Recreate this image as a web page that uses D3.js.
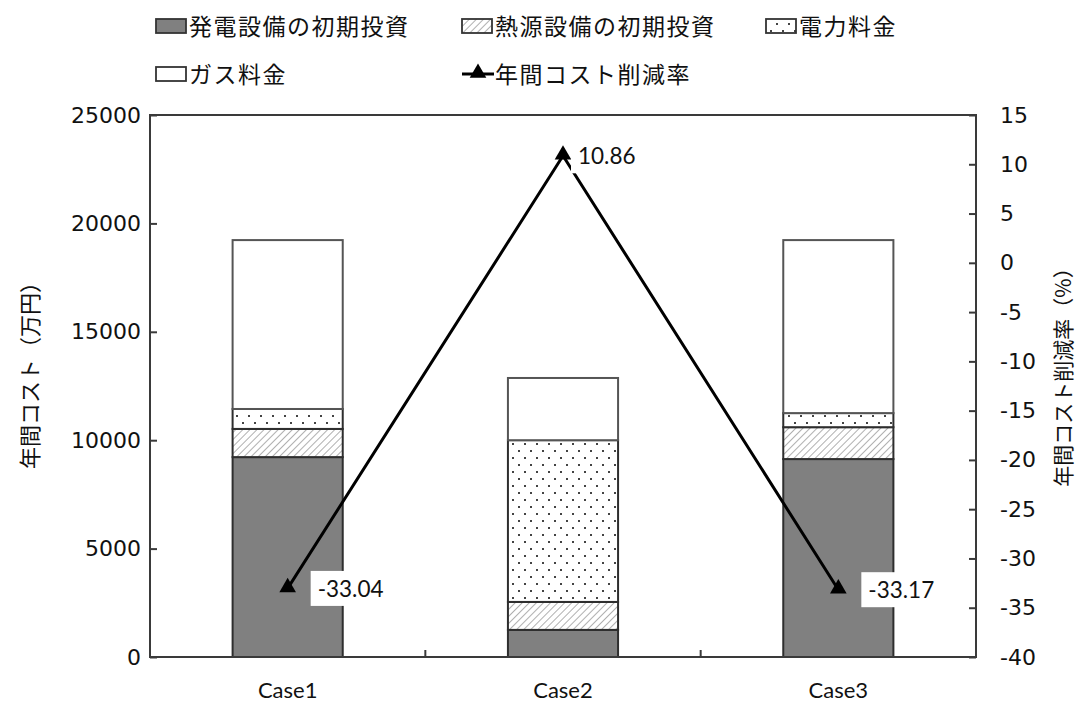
<!DOCTYPE html>
<html>
<head>
<meta charset="utf-8">
<script src="https://cdn.jsdelivr.net/npm/d3@7"></script>
<style>
  html, body { margin: 0; padding: 0; background: #fff; }
  svg { display: block; }
</style>
</head>
<body>
<svg id="chart" width="1080" height="704"></svg>
<script>
// ---- data ----
const categories = ["Case1", "Case2", "Case3"];
const seriesNames = ["発電設備の初期投資", "熱源設備の初期投資", "電力料金", "ガス料金"];
const genInvest = [9220, 1250, 9130];     // 発電設備の初期投資
const heatInvest = [1300, 1290, 1470];    // 熱源設備の初期投資
const powerCost = [920, 7460, 650];       // 電力料金
const gasCost = [7790, 2870, 7980];       // ガス料金
const reductionRate = [-33.04, 10.86, -33.17]; // 年間コスト削減率 (%)
const lineName = "年間コスト削減率";
const leftTicks = [0, 5000, 10000, 15000, 20000, 25000];
const rightTicks = [15, 10, 5, 0, -5, -10, -15, -20, -25, -30, -35, -40];
const leftTitle = "年間コスト（万円）";
const rightTitle = "年間コスト削減率（%）";

// ---- layout ----
const svg = d3.select("#chart");
const plot = { left: 150, right: 976, top: 115, bottom: 657 };
const jp = "'Noto Sans CJK JP', sans-serif";
const num = "'DejaVu Sans', sans-serif";
const lab = "Lato, 'Liberation Sans', sans-serif";
const axisColor = "#3a3a3a";
const plain = d => String(d); // hyphen-minus for negatives

const x = d3.scaleBand().domain(categories).range([plot.left, plot.right]).paddingInner(0.6).paddingOuter(0.3);
const xOuter = d3.scaleBand().domain(categories).range([plot.left, plot.right]);
const yL = d3.scaleLinear().domain([0, 25000]).range([plot.bottom, plot.top]);
const yR = d3.scaleLinear().domain([-40, 15]).range([plot.bottom, plot.top]);

// ---- patterns ----
const defs = svg.append("defs");
const hatch = defs.append("pattern").attr("id", "hatch").attr("patternUnits", "userSpaceOnUse")
  .attr("width", 5).attr("height", 5).attr("patternTransform", "rotate(45)");
hatch.append("rect").attr("width", 5).attr("height", 5).attr("fill", "#fff");
hatch.append("line").attr("x1", 0).attr("y1", 0).attr("x2", 0).attr("y2", 5)
  .attr("stroke", "#6e6e6e").attr("stroke-width", 1.1);

const dots = defs.append("pattern").attr("id", "dots").attr("patternUnits", "userSpaceOnUse")
  .attr("width", 12).attr("height", 14);
dots.append("rect").attr("width", 12).attr("height", 14).attr("fill", "#fff");
dots.append("rect").attr("x", 2).attr("y", 2).attr("width", 2).attr("height", 2).attr("fill", "#444");
dots.append("rect").attr("x", 8).attr("y", 9).attr("width", 2).attr("height", 2).attr("fill", "#444");

const fills = ["#808080", "url(#hatch)", "url(#dots)", "#ffffff"];

// ---- stacked bars ----
const rows = categories.map((c, i) => ({
  cat: c, gen: genInvest[i], heat: heatInvest[i], power: powerCost[i], gas: gasCost[i]
}));
const keys = ["gen", "heat", "power", "gas"];
const stacked = d3.stack().keys(keys)(rows);

const barG = svg.append("g");
stacked.forEach((layer, li) => {
  barG.selectAll(null).data(layer).enter().append("rect")
    .attr("x", d => x(d.data.cat))
    .attr("width", x.bandwidth())
    .attr("y", d => yL(d[1]))
    .attr("height", d => yL(d[0]) - yL(d[1]))
    .attr("fill", fills[li])
    .attr("stroke", li === 3 ? "#555" : "#2e2e2e")
    .attr("stroke-width", 2);
});

// ---- frame and axes ----
svg.append("rect").attr("x", plot.left).attr("y", plot.top)
  .attr("width", plot.right - plot.left).attr("height", plot.bottom - plot.top)
  .attr("fill", "none").attr("stroke", axisColor).attr("stroke-width", 2);

const leftAxis = svg.append("g").attr("transform", `translate(${plot.left},0)`)
  .call(d3.axisLeft(yL).tickValues(leftTicks).tickSize(-7).tickPadding(9).tickFormat(plain));
const rightAxis = svg.append("g").attr("transform", `translate(${plot.right},0)`)
  .call(d3.axisRight(yR).tickValues(rightTicks).tickSize(-7).tickPadding(24).tickFormat(plain));
[leftAxis, rightAxis].forEach(a => {
  a.select(".domain").remove();
  a.selectAll(".tick line").attr("stroke", axisColor).attr("stroke-width", 2);
  a.selectAll(".tick text").attr("font-family", num).attr("font-size", 22).attr("fill", "#111");
});

// category boundary ticks on the bottom axis
const bounds = categories.slice(1).map(c => xOuter(c));
svg.append("g").selectAll("line").data(bounds).enter().append("line")
  .attr("x1", d => d).attr("x2", d => d)
  .attr("y1", plot.bottom).attr("y2", plot.bottom - 7)
  .attr("stroke", axisColor).attr("stroke-width", 2);

svg.append("g").selectAll("text").data(categories).enter().append("text")
  .attr("x", d => x(d) + x.bandwidth() / 2)
  .attr("y", 698)
  .attr("text-anchor", "middle")
  .attr("font-family", lab).attr("font-size", 22).attr("fill", "#111")
  .text(d => d);

// axis titles
svg.append("text")
  .attr("transform", `translate(28,370) rotate(-90)`)
  .attr("text-anchor", "middle").attr("dominant-baseline", "central")
  .attr("font-family", jp).attr("font-size", 22).attr("fill", "#111")
  .text(leftTitle);
svg.append("text")
  .attr("transform", `translate(1062,372) rotate(-90)`)
  .attr("text-anchor", "middle").attr("dominant-baseline", "central")
  .attr("font-family", jp).attr("font-size", 21).attr("fill", "#111")
  .text(rightTitle);

// ---- reduction-rate line ----
const cx = c => x(c) + x.bandwidth() / 2;
const pts = categories.map((c, i) => ({ c, v: reductionRate[i] }));
svg.append("path")
  .datum(pts)
  .attr("fill", "none").attr("stroke", "#000").attr("stroke-width", 3)
  .attr("d", d3.line().x(d => cx(d.c)).y(d => yR(d.v)));

const tri = d3.symbol().type(d3.symbolTriangle).size(120);
svg.append("g").selectAll("path").data(pts).enter().append("path")
  .attr("transform", d => `translate(${cx(d.c)},${yR(d.v) - 1})`)
  .attr("d", tri).attr("fill", "#000");

// value labels with white backing
const labelG = svg.append("g");
pts.forEach(d => {
  const px = cx(d.c), py = yR(d.v);
  const dx = d.v < 0 ? 30 : 15;
  const g = labelG.append("g");
  const t = g.append("text")
    .attr("x", px + dx).attr("y", py).attr("dominant-baseline", "central")
    .attr("font-family", lab).attr("font-size", 22.5).attr("fill", "#111")
    .text(d3.format(".2f")(d.v).replace("\u2212", "-"));
  const bb = t.node().getBBox();
  g.insert("rect", "text")
    .attr("x", bb.x - 7).attr("y", bb.y - 4)
    .attr("width", bb.width + 12).attr("height", bb.height + 8)
    .attr("fill", "#fff");
});

// ---- legend ----
const legend = svg.append("g");
const legendItems = [
  { name: seriesNames[0], fill: fills[0], x: 156, y: 25 },
  { name: seriesNames[1], fill: fills[1], x: 462, y: 25 },
  { name: seriesNames[2], fill: fills[2], x: 766, y: 25 },
  { name: seriesNames[3], fill: fills[3], x: 156, y: 73 }
];
legendItems.forEach(it => {
  legend.append("rect").attr("x", it.x).attr("y", it.y - 6).attr("width", 30).attr("height", 14)
    .attr("fill", it.fill).attr("stroke", "#333").attr("stroke-width", 1.8);
  legend.append("text").attr("x", it.x + 33).attr("y", it.y).attr("dominant-baseline", "central")
    .attr("font-family", jp).attr("font-size", 23).attr("letter-spacing", 1.5).attr("fill", "#111").text(it.name);
});
legend.append("line").attr("x1", 462).attr("x2", 494).attr("y1", 74).attr("y2", 74)
  .attr("stroke", "#000").attr("stroke-width", 3);
legend.append("path").attr("transform", "translate(478,73)").attr("d", tri).attr("fill", "#000");
legend.append("text").attr("x", 495).attr("y", 73).attr("dominant-baseline", "central")
  .attr("font-family", jp).attr("font-size", 23).attr("letter-spacing", 1.5).attr("fill", "#111").text(lineName);
</script>
</body>
</html>
